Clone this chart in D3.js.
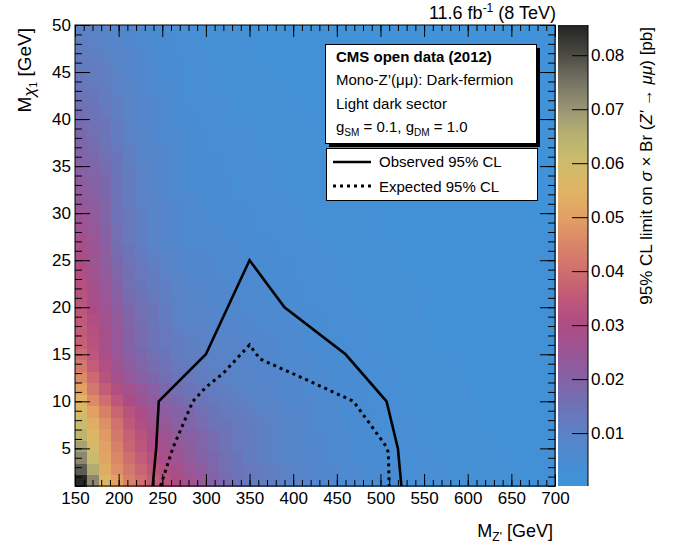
<!DOCTYPE html>
<html><head><meta charset="utf-8">
<script src="https://cdn.jsdelivr.net/npm/d3@7"></script>
<style>
body{margin:0;background:#fff;}
svg{font-family:"Liberation Sans",Arial,Helvetica,sans-serif;}
</style></head><body>
<svg width="673" height="545"></svg>
<script>
// axis ranges and ticks
var mZpRange = [150, 700];
var mChiRange = [1, 50];
var nBinsX = 40, nBinsY = 40;
var xTickLabels = [150, 200, 250, 300, 350, 400, 450, 500, 550, 600, 650, 700];
var yTickLabels = [5, 10, 15, 20, 25, 30, 35, 40, 45, 50];
var zTickLabels = [0.01, 0.02, 0.03, 0.04, 0.05, 0.06, 0.07, 0.08];
var zRange = [0.0002, 0.0856];

// 95% CL limit, units of 1e-3 pb; first row = lowest M_chi bin, first column = lowest M_Z'
var limitGrid = [
[85,72,57,50,44,40,36,33,30,27,24,20,17,15,13,12,11,10,9,8,7,7,6,6,5,5,5,4,4,4,4,3,3,3,3,3,3,2,2,2],
[78,66,53,47,42,38,34,31,28,25,22,19,16,14,13,12,11,10,9,8,7,7,6,6,5,5,5,4,4,4,4,3,3,3,3,3,3,2,2,2],
[72,61,51,45,40,36,32,29,26,23,20,18,16,14,12,11,10,9,8,8,7,6,6,5,5,5,4,4,4,4,3,3,3,3,3,3,2,2,2,2],
[68,58,50,44,38,34,30,27,24,22,19,17,15,13,12,11,10,9,8,7,7,6,6,5,5,5,4,4,4,4,3,3,3,3,3,2,2,2,2,2],
[64,56,49,42,37,33,29,26,23,21,19,17,15,13,12,11,10,9,8,7,7,6,6,5,5,4,4,4,4,3,3,3,3,3,3,2,2,2,2,2],
[61,53,47,41,35,31,27,24,21,19,17,15,14,13,12,11,10,9,8,7,6,6,5,5,5,4,4,4,4,3,3,3,3,3,2,2,2,2,2,2],
[58,50,44,38,33,29,25,22,20,18,16,14,13,12,11,10,9,8,8,7,6,6,5,5,5,4,4,4,3,3,3,3,3,3,2,2,2,2,2,2],
[55,46,40,34,30,26,23,20,18,16,14,13,12,11,10,9,9,8,7,7,6,6,5,5,4,4,4,4,3,3,3,3,3,2,2,2,2,2,2,2],
[50,42,36,31,27,24,21,18,16,14,13,12,11,10,9,9,8,7,7,6,6,5,5,5,4,4,4,3,3,3,3,3,3,2,2,2,2,2,2,2],
[46,39,33,28,24,21,18,16,14,13,12,11,10,9,9,8,8,7,7,6,6,5,5,5,4,4,4,3,3,3,3,3,2,2,2,2,2,2,2,2],
[42,36,31,26,22,19,17,15,13,12,11,10,10,9,8,8,7,7,6,6,5,5,5,4,4,4,4,3,3,3,3,3,2,2,2,2,2,2,2,2],
[39,34,29,25,21,18,16,14,12,11,11,10,9,9,8,7,7,6,6,6,5,5,4,4,4,4,3,3,3,3,3,2,2,2,2,2,2,2,2,2],
[37,33,28,24,20,17,15,13,12,11,10,9,9,8,8,7,7,6,6,5,5,5,4,4,4,3,3,3,3,3,2,2,2,2,2,2,2,2,2,2],
[36,32,28,24,20,17,15,13,11,10,10,9,8,8,7,7,6,6,6,5,5,4,4,4,4,3,3,3,3,3,2,2,2,2,2,2,2,2,2,2],
[35,31,27,23,19,16,14,12,10,9,9,8,8,7,7,6,6,6,5,5,5,4,4,4,3,3,3,3,3,2,2,2,2,2,2,2,2,2,2,2],
[34,30,26,22,18,16,14,12,10,9,8,8,7,7,6,6,6,5,5,5,4,4,4,4,3,3,3,3,3,2,2,2,2,2,2,2,2,2,2,2],
[33,29,25,21,17,15,13,11,10,9,8,7,7,7,6,6,5,5,5,4,4,4,4,3,3,3,3,3,3,2,2,2,2,2,2,2,2,2,2,2],
[32,28,24,20,16,14,12,11,9,8,8,7,7,6,6,6,5,5,5,4,4,4,4,3,3,3,3,3,2,2,2,2,2,2,2,2,2,2,2,2],
[31,27,23,19,16,13,12,10,9,8,7,7,6,6,6,5,5,5,4,4,4,4,3,3,3,3,3,3,2,2,2,2,2,2,2,2,2,2,2,2],
[30,26,22,18,15,13,11,10,8,7,7,7,6,6,5,5,5,5,4,4,4,4,3,3,3,3,3,2,2,2,2,2,2,2,2,2,2,2,2,2],
[29,26,22,17,14,12,10,9,8,7,7,6,6,6,5,5,5,4,4,4,4,3,3,3,3,3,3,2,2,2,2,2,2,2,2,2,2,2,2,2],
[28,25,21,16,13,11,9,8,7,6,6,6,6,5,5,5,4,4,4,4,3,3,3,3,3,3,2,2,2,2,2,2,2,2,2,2,2,2,2,2],
[26,24,20,16,13,11,9,8,7,6,6,6,5,5,5,4,4,4,4,3,3,3,3,3,3,2,2,2,2,2,2,2,2,2,2,2,2,2,2,1],
[25,23,19,15,13,11,9,8,7,6,6,5,5,5,5,4,4,4,4,3,3,3,3,3,3,2,2,2,2,2,2,2,2,2,2,2,2,2,1,1],
[24,22,19,15,12,10,9,8,7,6,5,5,5,5,4,4,4,4,3,3,3,3,3,3,2,2,2,2,2,2,2,2,2,2,2,2,2,1,1,1],
[23,21,18,15,12,10,9,7,6,6,5,5,5,4,4,4,4,4,3,3,3,3,3,3,2,2,2,2,2,2,2,2,2,2,2,2,1,1,1,1],
[22,20,18,14,12,10,8,7,6,5,5,5,5,4,4,4,4,3,3,3,3,3,3,2,2,2,2,2,2,2,2,2,2,2,2,1,1,1,1,1],
[21,19,17,14,12,10,8,7,6,5,5,5,4,4,4,4,4,3,3,3,3,3,3,2,2,2,2,2,2,2,2,2,2,2,1,1,1,1,1,1],
[20,18,16,14,11,9,8,7,6,5,5,5,4,4,4,4,3,3,3,3,3,3,2,2,2,2,2,2,2,2,2,2,2,1,1,1,1,1,1,1],
[19,17,15,13,11,9,8,7,6,5,5,4,4,4,4,3,3,3,3,3,3,2,2,2,2,2,2,2,2,2,2,2,1,1,1,1,1,1,1,1],
[18,16,14,12,10,9,7,6,6,5,5,4,4,4,4,3,3,3,3,3,2,2,2,2,2,2,2,2,2,2,2,1,1,1,1,1,1,1,1,1],
[17,15,14,12,10,8,7,6,5,5,4,4,4,4,3,3,3,3,3,3,2,2,2,2,2,2,2,2,2,2,1,1,1,1,1,1,1,1,1,1],
[16,15,13,11,9,8,7,6,5,5,4,4,4,3,3,3,3,3,3,2,2,2,2,2,2,2,2,2,2,1,1,1,1,1,1,1,1,1,1,1],
[15,14,12,11,9,8,7,6,5,4,4,4,4,3,3,3,3,3,2,2,2,2,2,2,2,2,2,2,1,1,1,1,1,1,1,1,1,1,1,1],
[14,13,12,10,9,7,6,6,5,4,4,4,3,3,3,3,3,3,2,2,2,2,2,2,2,2,2,1,1,1,1,1,1,1,1,1,1,1,1,1],
[13,12,11,10,8,7,6,5,5,4,4,4,3,3,3,3,3,2,2,2,2,2,2,2,2,2,1,1,1,1,1,1,1,1,1,1,1,1,1,1],
[12,12,11,9,8,7,6,5,5,4,4,3,3,3,3,3,2,2,2,2,2,2,2,2,2,1,1,1,1,1,1,1,1,1,1,1,1,1,1,1],
[12,11,10,9,8,7,6,5,4,4,4,3,3,3,3,2,2,2,2,2,2,2,2,2,1,1,1,1,1,1,1,1,1,1,1,1,1,1,1,1],
[11,10,9,8,7,6,5,5,4,4,3,3,3,3,3,2,2,2,2,2,2,2,2,1,1,1,1,1,1,1,1,1,1,1,1,1,1,1,1,1],
[10,10,9,8,7,6,5,5,4,4,3,3,3,3,2,2,2,2,2,2,2,2,1,1,1,1,1,1,1,1,1,1,1,1,1,1,1,1,1,1]
];

// exclusion contours [M_Z', M_chi]
var observed = [[239,1],[243,5],[246,10],[300,15],[325,20],[350,25],[390,20],[460,15],[507,10],[520,5],[524,1]];
var expected = [[248,1],[262,5],[285,10],[300,11.5],[320,13],[340,15],[350,16],[362,14.5],[415,12.3],[469,10],[488,7.6],[505,5.4],[509,4.6],[510,1]];

// palette
var paletteStops = [0, 0.005, 0.01, 0.015, 0.02, 0.025, 0.03, 0.035, 0.04, 0.045, 0.05, 0.055, 0.06, 0.065, 0.07, 0.075, 0.08, 0.0856];
var paletteColors = ["#3d95da","#4a8cd2","#5c82c6","#6e72b6","#8462a6","#9a5696","#ad4c84","#c0587a","#cf6e6e","#da8668","#e2a064","#e0b464","#cebc6c","#b8b270","#999576","#767464","#4c4c44","#222222"];

var pL = 75, pR = 555, pT = 25, pB = 486;
var cbL = 558, cbR = 588;

var svg = d3.select("svg");

var x = d3.scaleLinear().domain(mZpRange).range([pL, pR]);
var y = d3.scaleLinear().domain(mChiRange).range([pB, pT]);
var z = d3.scaleLinear().domain(zRange).range([pB, pT]);
var color = d3.scaleLinear().domain(paletteStops).range(paletteColors).clamp(true);

var bw = (mZpRange[1] - mZpRange[0]) / nBinsX;
var bh = (mChiRange[1] - mChiRange[0]) / nBinsY;

var cells = [];
limitGrid.forEach(function(row, j) {
  row.forEach(function(v, i) {
    cells.push({i: i, j: j, v: v / 1000});
  });
});

// heat map, cells drawn slightly oversized so no seams show
svg.append("g").attr("shape-rendering", "crispEdges")
  .selectAll("rect").data(cells).enter().append("rect")
  .attr("x", function(d) { return x(mZpRange[0] + d.i * bw); })
  .attr("y", function(d) { return y(mChiRange[0] + (d.j + 1) * bh); })
  .attr("width", function(d) { return x(mZpRange[0] + (d.i + 1) * bw) - x(mZpRange[0] + d.i * bw) + 1; })
  .attr("height", function(d) { return y(mChiRange[0] + d.j * bh) - y(mChiRange[0] + (d.j + 1) * bh) + 1; })
  .attr("fill", function(d) { return color(Math.max(d.v, zRange[0])); });

// contours
var line = d3.line().x(function(d) { return x(d[0]); }).y(function(d) { return y(d[1]); });
svg.append("path").datum(observed).attr("d", line)
  .attr("fill", "none").attr("stroke", "#000").attr("stroke-width", 2.6);
svg.append("path").datum(expected).attr("d", line)
  .attr("fill", "none").attr("stroke", "#000").attr("stroke-width", 3)
  .attr("stroke-dasharray", "3,4");

// axes
function styleAxis(g) {
  g.select(".domain").remove();
  g.selectAll("line").attr("stroke", "#000");
  g.selectAll("text").attr("font-size", "17px").attr("fill", "#000");
}
var minorX = d3.range(150, 701, 10);
var minorY = d3.range(1, 51, 1);

svg.append("g").attr("transform", "translate(0," + pB + ")")
  .call(d3.axisBottom(x).tickValues(minorX).tickSize(-6).tickFormat("")).call(styleAxis);
svg.append("g").attr("transform", "translate(0," + pB + ")")
  .call(d3.axisBottom(x).tickValues(xTickLabels).tickSize(-12).tickPadding(6).tickFormat(d3.format("d"))).call(styleAxis);
svg.append("g").attr("transform", "translate(0," + pT + ")")
  .call(d3.axisTop(x).tickValues(minorX).tickSize(-6).tickFormat("")).call(styleAxis);
svg.append("g").attr("transform", "translate(0," + pT + ")")
  .call(d3.axisTop(x).tickValues(xTickLabels).tickSize(-12).tickFormat("")).call(styleAxis);

svg.append("g").attr("transform", "translate(" + pL + ",0)")
  .call(d3.axisLeft(y).tickValues(minorY).tickSize(-7).tickFormat("")).call(styleAxis);
svg.append("g").attr("transform", "translate(" + pL + ",0)")
  .call(d3.axisLeft(y).tickValues(yTickLabels).tickSize(-15).tickPadding(4).tickFormat(d3.format("d"))).call(styleAxis);
svg.append("g").attr("transform", "translate(" + pR + ",0)")
  .call(d3.axisRight(y).tickValues(minorY).tickSize(-7).tickFormat("")).call(styleAxis);
svg.append("g").attr("transform", "translate(" + pR + ",0)")
  .call(d3.axisRight(y).tickValues(yTickLabels).tickSize(-15).tickFormat("")).call(styleAxis);

svg.append("rect").attr("x", pL).attr("y", pT).attr("width", pR - pL).attr("height", pB - pT)
  .attr("fill", "none").attr("stroke", "#000").attr("stroke-width", 1);

// colour bar
var grad = svg.append("defs").append("linearGradient").attr("id", "cb")
  .attr("x1", 0).attr("y1", 1).attr("x2", 0).attr("y2", 0);
d3.range(0, 1.0001, 0.02).forEach(function(t) {
  var v = zRange[0] + t * (zRange[1] - zRange[0]);
  grad.append("stop").attr("offset", t).attr("stop-color", color(v));
});
svg.append("rect").attr("x", cbL).attr("y", pT).attr("width", cbR - cbL).attr("height", pB - pT)
  .attr("fill", "url(#cb)");
svg.append("g").attr("transform", "translate(" + cbR + ",0)")
  .call(d3.axisRight(z).tickValues(zTickLabels).tickSize(-16).tickPadding(3).tickFormat(d3.format(".2f"))).call(styleAxis);
svg.append("line").attr("x1", cbR).attr("x2", cbR).attr("y1", pT).attr("y2", pB).attr("stroke", "#000");

// titles
var xt = svg.append("text").attr("x", 553).attr("y", 537).attr("text-anchor", "end").attr("font-size", "18px");
xt.append("tspan").text("M");
xt.append("tspan").attr("font-size", "12px").attr("dy", 4).text("Z'");
xt.append("tspan").attr("dy", -4).text(" [GeV]");

var yt = svg.append("text").attr("transform", "translate(31,28) rotate(-90)").attr("text-anchor", "end").attr("font-size", "19px");
yt.append("tspan").text("M");
yt.append("tspan").attr("font-size", "17px").attr("dy", 4).attr("font-style", "italic").text("\u03c7");
yt.append("tspan").attr("font-size", "10px").attr("dy", 2).text("1");
yt.append("tspan").attr("dy", -6).text("  [GeV]");

var tt = svg.append("text").attr("x", 556).attr("y", 19).attr("text-anchor", "end").attr("font-size", "18px");
tt.append("tspan").text("11.6 fb");
tt.append("tspan").attr("font-size", "12px").attr("dy", -7).text("-1");
tt.append("tspan").attr("dy", 7).text(" (8 TeV)");

var ct = svg.append("text").attr("transform", "translate(652,27) rotate(-90)").attr("text-anchor", "end").attr("font-size", "17px");
ct.append("tspan").text("95% CL limit on ");
ct.append("tspan").attr("font-style", "italic").text("\u03c3");
ct.append("tspan").text(" \u00d7 Br (");
ct.append("tspan").attr("font-style", "italic").text("Z'");
ct.append("tspan").text(" \u2192 ");
ct.append("tspan").attr("font-style", "italic").text("\u03bc\u03bc");
ct.append("tspan").text(") [pb]");

// info box with shadow
svg.append("rect").attr("x", 329).attr("y", 48).attr("width", 211).attr("height", 99).attr("fill", "#000");
svg.append("rect").attr("x", 325.5).attr("y", 44.5).attr("width", 211).attr("height", 99).attr("fill", "#fff").attr("stroke", "#000");
svg.append("text").attr("x", 336).attr("y", 62).attr("font-size", "15px").attr("font-weight", "bold").text("CMS open data (2012)");
svg.append("text").attr("x", 336).attr("y", 85).attr("font-size", "15px").text("Mono-Z\u2019(\u03bc\u03bc): Dark-fermion");
svg.append("text").attr("x", 336).attr("y", 109).attr("font-size", "15px").text("Light dark sector");
var gt = svg.append("text").attr("x", 336).attr("y", 132).attr("font-size", "15px");
gt.append("tspan").text("g");
gt.append("tspan").attr("font-size", "10px").attr("dy", 4).text("SM");
gt.append("tspan").attr("dy", -4).text(" = 0.1, g");
gt.append("tspan").attr("font-size", "10px").attr("dy", 4).text("DM");
gt.append("tspan").attr("dy", -4).text(" = 1.0");

// legend
svg.append("rect").attr("x", 326.5).attr("y", 148.5).attr("width", 211).attr("height", 52).attr("fill", "#fff").attr("stroke", "#000");
svg.append("line").attr("x1", 333).attr("x2", 371).attr("y1", 162).attr("y2", 162).attr("stroke", "#000").attr("stroke-width", 2.6);
svg.append("line").attr("x1", 333).attr("x2", 371).attr("y1", 186).attr("y2", 186).attr("stroke", "#000").attr("stroke-width", 3).attr("stroke-dasharray", "3,4");
svg.append("text").attr("x", 379).attr("y", 167).attr("font-size", "15px").text("Observed 95% CL");
svg.append("text").attr("x", 379).attr("y", 192).attr("font-size", "15px").text("Expected 95% CL");
</script></body></html>
